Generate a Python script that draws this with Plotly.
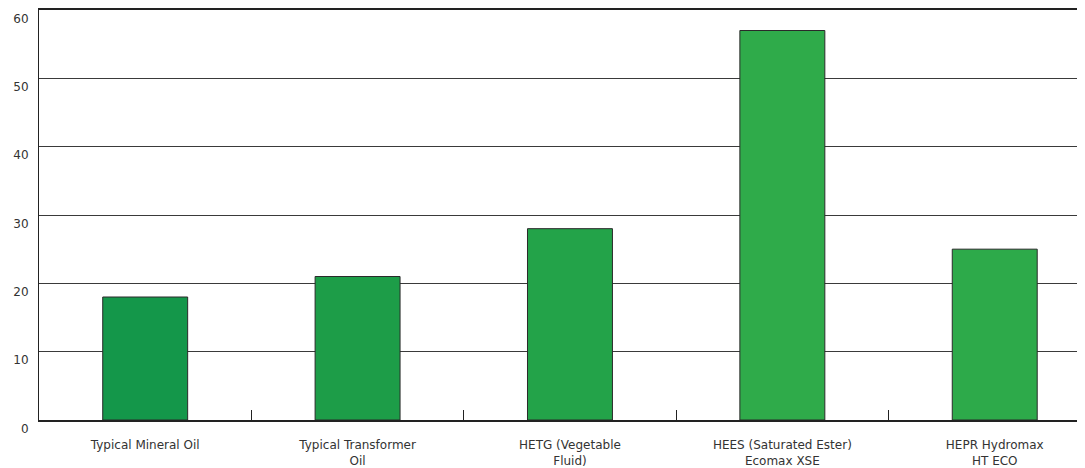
import plotly.graph_objects as go

categories = [
    "Typical Mineral Oil",
    "Typical Transformer<br>Oil",
    "HETG (Vegetable<br>Fluid)",
    "HEES (Saturated Ester)<br>Ecomax XSE",
    "HEPR Hydromax<br>HT ECO",
]
values = [18, 21, 28, 57, 25]
bar_colors = ["#14974a", "#1d9d48", "#23a349", "#2fab4a", "#2daa4a"]
y_ticks = [0, 10, 20, 30, 40, 50, 60]

fig = go.Figure(
    go.Bar(
        x=categories,
        y=values,
        width=0.40,
        marker=dict(color=bar_colors, line=dict(color="#2a2a2a", width=1)),
        hoverinfo="x+y",
    )
)

# page body has an 8px default margin, so the figure is sized to fit the window
fig.update_layout(
    width=1077,
    height=460,
    margin=dict(l=31, r=0, t=2, b=48),
    paper_bgcolor="white",
    plot_bgcolor="white",
    showlegend=False,
    font=dict(family="DejaVu Sans, Verdana, sans-serif", size=12, color="#333333"),
)

fig.update_xaxes(
    type="category",
    range=[-0.5, 4.425],
    automargin=False,
    showgrid=False,
    showline=True,
    mirror=True,
    linecolor="#222222",
    linewidth=2,
    tickson="boundaries",
    ticks="inside",
    ticklen=10,
    tickcolor="#222222",
    tickwidth=1,
    ticklabelstandoff=13,
    tickfont=dict(size=12, color="#333333"),
)

fig.update_yaxes(
    range=[0, 60],
    tickvals=y_ticks,
    automargin=False,
    showgrid=True,
    gridcolor="#3a3a3a",
    gridwidth=1,
    zeroline=False,
    showline=True,
    linecolor="#222222",
    linewidth=1,
    ticks="",
    ticklabelposition="outside bottom",
    ticklabelstandoff=7,
    tickfont=dict(size=12, color="#333333"),
)

fig.write_html("out.html")
